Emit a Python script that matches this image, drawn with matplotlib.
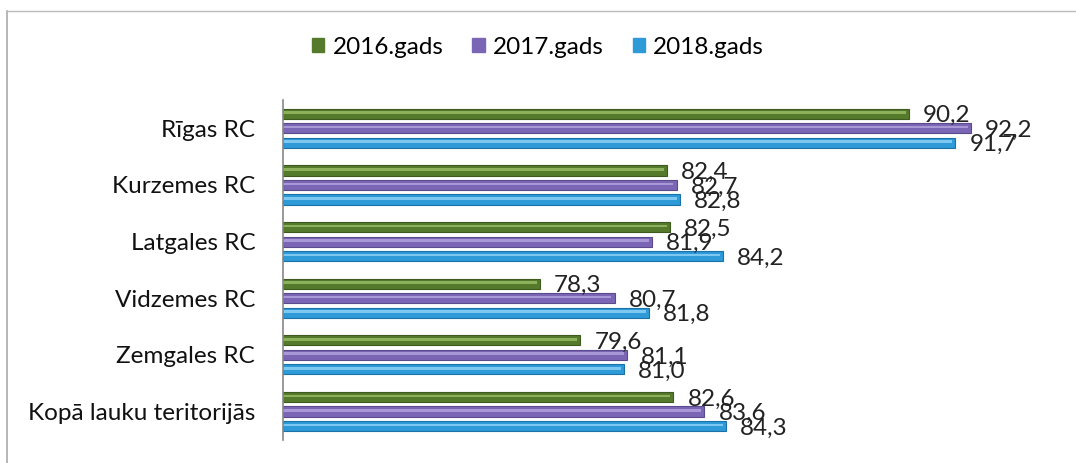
import matplotlib.pyplot as plt
import matplotlib.patches as mpatches
import numpy as np

plt.rcParams['font.family'] = ['Lato', 'DejaVu Sans']

categories = ["Rīgas RC", "Kurzemes RC", "Latgales RC", "Vidzemes RC",
              "Zemgales RC", "Kopā lauku teritorijās"]
series_names = ["2016.gads", "2017.gads", "2018.gads"]
v2016 = [90.2, 82.4, 82.5, 78.3, 79.6, 82.6]
v2017 = [92.2, 82.7, 81.9, 80.7, 81.1, 83.6]
v2018 = [91.7, 82.8, 84.2, 81.8, 81.0, 84.3]

colors = ["#567a2c", "#7a66b4", "#2e9ad8"]
edges = ["#3f5a1e", "#5a4a8e", "#1b72a8"]
lights = ["#8db05a", "#a898d8", "#7cc8f0"]
fs = 17.5

fig = plt.figure(figsize=(10.76, 4.63), dpi=100)
ax = fig.add_axes([0.263, 0.05, 0.72, 0.734])

y = np.arange(len(categories))
offsets = [-0.256, 0.0, 0.256]
h = 0.18
xmin = 70
for vals, off, c, ec, lc in zip([v2016, v2017, v2018], offsets, colors, edges, lights):
    w = np.array(vals) - xmin
    ax.barh(y + off, w, left=xmin, height=h, color=c, edgecolor=ec, linewidth=0.8)
    # highlight stripe to mimic the cylinder shading
    ax.barh(y + off - 0.02, w - 0.1, left=xmin, height=0.045, color=lc, linewidth=0)
    for yi, v in zip(y + off, vals):
        ax.annotate(f"{v:.1f}".replace('.', ','), xy=(v, yi), xytext=(14, -2),
                    textcoords="offset pixels", ha="left", va="center",
                    fontsize=fs, color="#222222")

ax.set_xlim(xmin, 95)
ax.set_ylim(len(categories) - 0.5, -0.5)
ax.set_yticks(y)
ax.set_yticklabels(categories, fontsize=fs, color="#111111")
ax.tick_params(axis='y', length=0, pad=20)
ax.set_xticks([])
for s in ["top", "right", "bottom"]:
    ax.spines[s].set_visible(False)
ax.spines["left"].set_color("#888888")
ax.spines["left"].set_linewidth(1.2)

handles = [mpatches.Patch(color=c, label=n) for c, n in zip(colors, series_names)]
fig.legend(handles=handles, loc="center", bbox_to_anchor=(0.5, 0.898), ncol=3,
           frameon=False, fontsize=fs, handlelength=0.5, handleheight=0.5,
           handletextpad=0.33, columnspacing=1.2)

# outer frame of the chart (left and top edges visible in the scan)
fig.add_artist(plt.Line2D([7 / 1076, 7 / 1076], [0, 1 - 11 / 463],
                          transform=fig.transFigure, color="#aaaaaa", lw=1.2))
fig.add_artist(plt.Line2D([7 / 1076, 1], [1 - 11 / 463, 1 - 11 / 463],
                          transform=fig.transFigure, color="#bbbbbb", lw=1.0))

fig.savefig("out.png", dpi=100)
